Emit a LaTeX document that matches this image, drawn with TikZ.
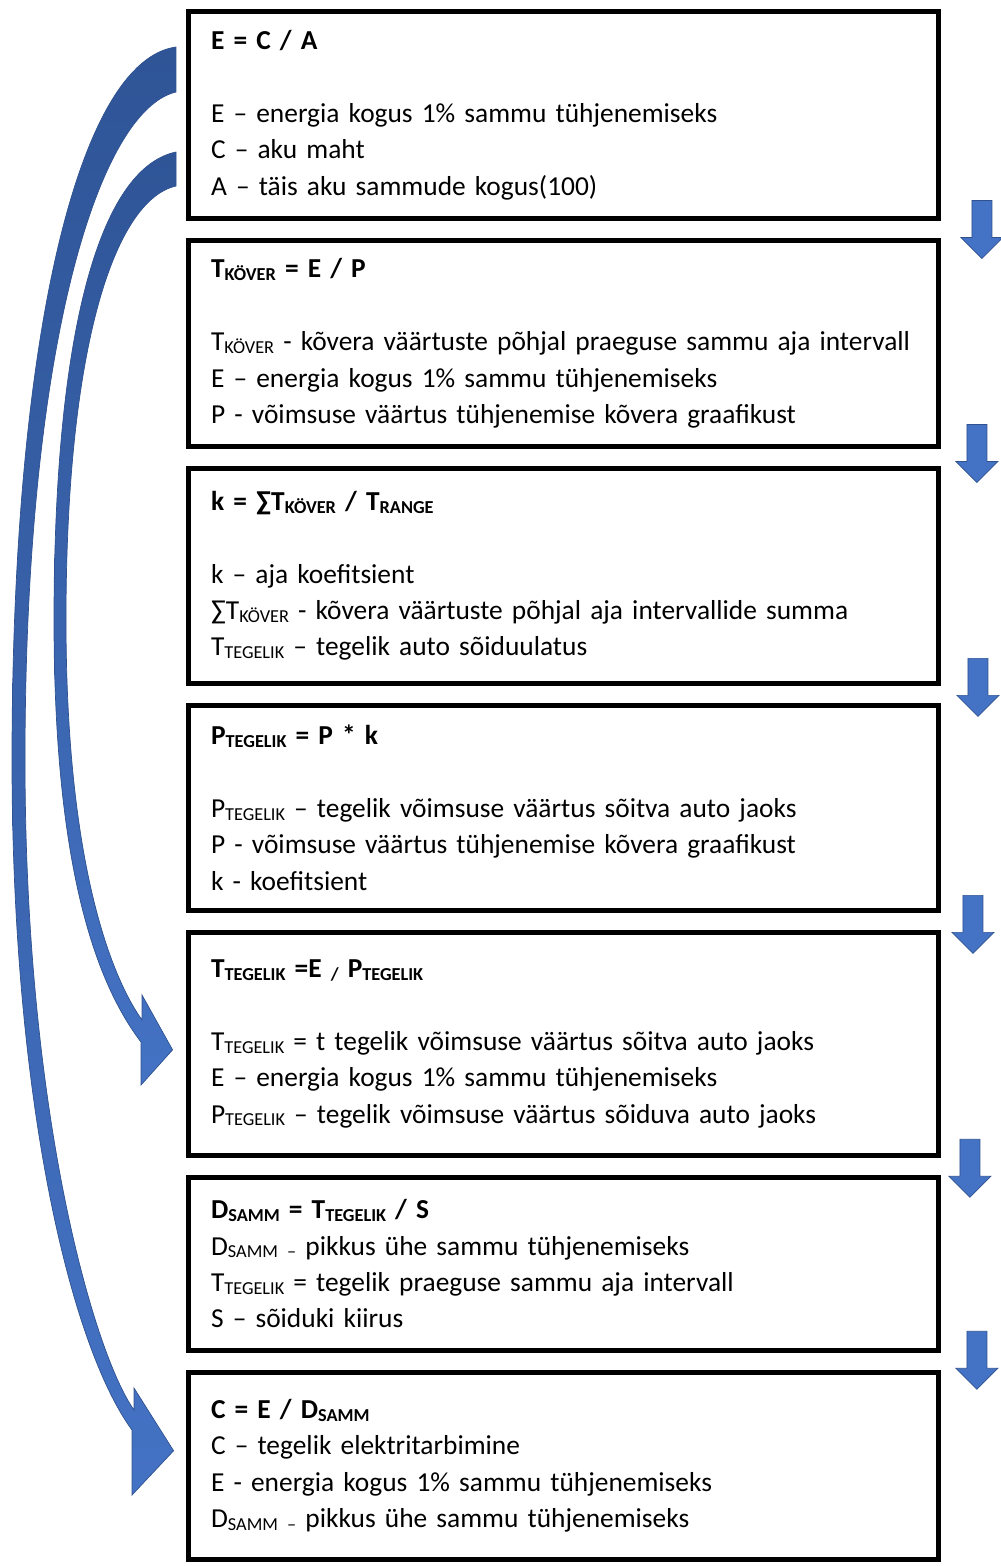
\documentclass[tikz,border=0pt]{standalone}
\usepackage{fontspec}
\setmainfont{Carlito}[WordSpace=0.72]
\usetikzlibrary{positioning,calc}
\definecolor{arrowblue}{HTML}{4472C4}
\definecolor{arrowdark}{HTML}{2F5597}
\definecolor{arrowedge}{HTML}{2F528F}
\newcommand{\alam}[1]{\raisebox{-1.6pt}{\fontsize{10.4pt}{10pt}\selectfont #1}}
\newcommand{\tyhi}{\\[20.7pt]}

\begin{document}
\begin{tikzpicture}[
  x=0.02cm, y=-0.02cm,
  node distance=0.34cm,
  box/.style={draw, line width=0.1cm, minimum width=15cm, text width=14.1cm, inner xsep=0.45cm, inner ysep=0pt, align=left, font=\fontsize{15.6pt}{20.7pt}\selectfont},
  smallarr/.style={fill=arrowblue, draw=arrowedge, line width=0.4pt},
  bigarr/.style={top color=arrowdark, bottom color=arrowblue, draw=arrowedge, line width=0.4pt}
]
\useasboundingbox (0,0) rectangle (1001,1566);

\node[box, minimum height=4.14cm] (box1) at (563.5,115) {\textbf{E = C / A}\tyhi
  E – energia kogus 1\% sammu tühjenemiseks\\
  C – aku maht\\
  A – täis aku sammude kogus(100)};
\node[box, minimum height=4.12cm, below=of box1] (box2) {\textbf{T\alam{KÖVER} = E / P}\tyhi
  \mbox{T\alam{KÖVER} - kõvera väärtuste põhjal praeguse sammu aja intervall}\\
  E – energia kogus 1\% sammu tühjenemiseks\\
  P - võimsuse väärtus tühjenemise kõvera graafikust};
\node[box, minimum height=4.30cm, below=of box2] (box3) {\textbf{k = ∑T\alam{KÖVER} / T\alam{RANGE}}\tyhi
  k – aja koefitsient\\
  ∑T\alam{KÖVER} - kõvera väärtuste põhjal aja intervallide summa\\
  T\alam{TEGELIK} – tegelik auto sõiduulatus};
\node[box, minimum height=4.10cm, below=of box3] (box4) {\textbf{P\alam{TEGELIK} = P * k}\tyhi
  P\alam{TEGELIK} – tegelik võimsuse väärtus sõitva auto jaoks\\
  P - võimsuse väärtus tühjenemise kõvera graafikust\\
  k - koefitsient};
\node[box, minimum height=4.46cm, below=of box4] (box5) {\textbf{T\alam{TEGELIK} =E\alam{ / }P\alam{TEGELIK}}\tyhi
  T\alam{TEGELIK} = t tegelik võimsuse väärtus sõitva auto jaoks\\
  E – energia kogus 1\% sammu tühjenemiseks\\
  P\alam{TEGELIK} – tegelik võimsuse väärtus sõiduva auto jaoks};
\node[box, minimum height=3.46cm, below=of box5] (box6) {\textbf{D\alam{SAMM} = T\alam{TEGELIK} / S}\\
  D\alam{SAMM – }pikkus ühe sammu tühjenemiseks\\
  T\alam{TEGELIK} = tegelik praeguse sammu aja intervall\\
  S – sõiduki kiirus};
\node[box, minimum height=3.74cm, below=of box6] (box7) {\textbf{C = E / D\alam{SAMM}}\\
  C – tegelik elektritarbimine\\
  E - energia kogus 1\% sammu tühjenemiseks\\
  D\alam{SAMM – }pikkus ühe sammu tühjenemiseks};

% small arrows between the boxes
\foreach \a/\b/\dx/\dy in {1/2/41/0, 2/3/36/-4, 3/4/37/-7, 4/5/32/3, 5/6/29/2, 6/7/36/-1}
  \draw[smallarr] ($(box\a.south east)!0.5!(box\b.north east)+(\dx,\dy-29)$) ++(-10,0) -- ++(20,0) -- ++(0,37) -- ++(11,0) -- ++(-21,21) -- ++(-21,-21) -- ++(11,0) -- cycle;

% curved arrows on the left
\coordinate (tipA) at ($(box7.west)+(-12.5,-15)$);
\coordinate (tipB) at ($(box5.west)+(-13.5,6)$);
\path[bigarr] (176,47) .. controls (80,60) and (12,330) .. (12,760)
  .. controls (12,1100) and (70,1345) .. (132,1430)
  -- (132,1495) -- (tipA) -- (134,1388) -- (134,1410)
  .. controls (95,1355) and (25,1120) .. (25,760)
  .. controls (25,340) and (100,110) .. (176,92) -- cycle;
\path[bigarr] (176,152) .. controls (100,168) and (54,330) .. (54,620)
  .. controls (54,850) and (90,975) .. (141,1042)
  -- (141,1085) -- (tipB) -- (142,995) -- (142,1020)
  .. controls (110,975) and (66,860) .. (66,620)
  .. controls (66,345) and (115,200) .. (176,186) -- cycle;
\end{tikzpicture}
\end{document}
